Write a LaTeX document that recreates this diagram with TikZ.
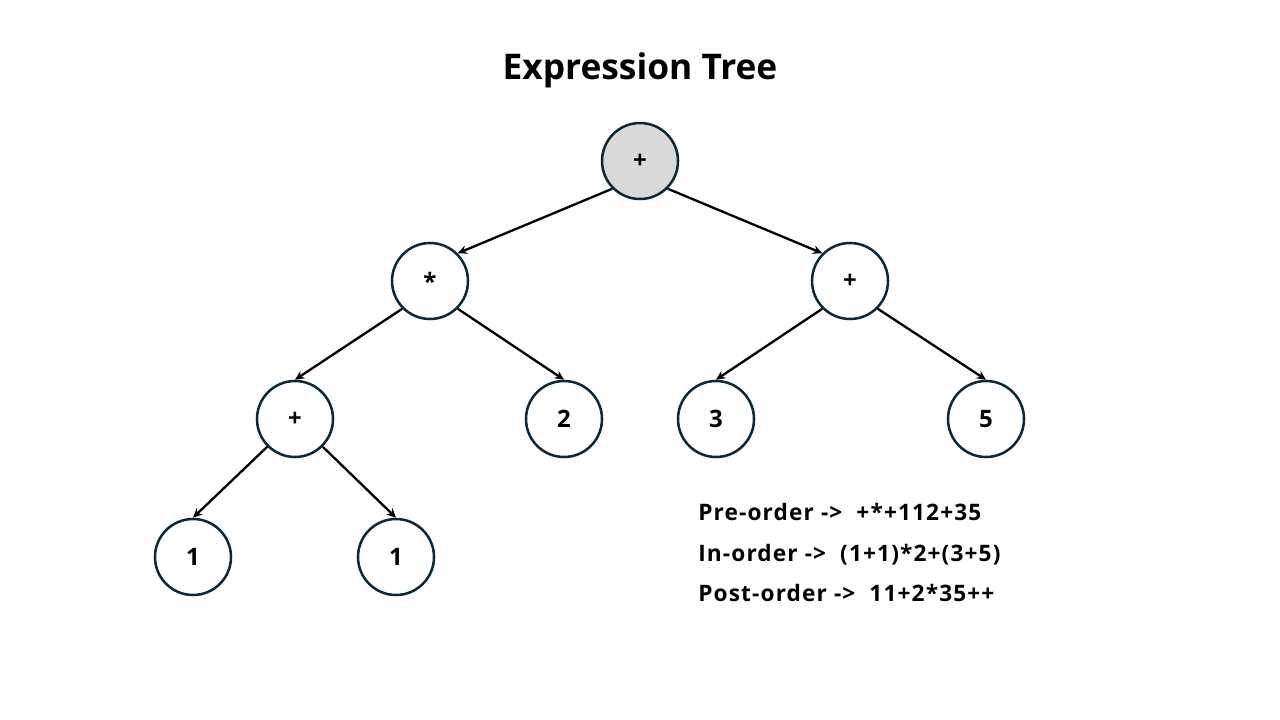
\documentclass[tikz,border=0pt]{standalone}
\usepackage{fontspec}
\setmainfont{Open Sans}
\usetikzlibrary{arrows.meta}
\definecolor{etNavy}{RGB}{13,40,56}
\definecolor{etGray}{RGB}{217,217,217}
\tikzset{
    base/.style={font=\bfseries\fontsize{18}{20}\selectfont, align=center},
    operand/.style={base, circle, draw=etNavy, line width=1.9pt, fill=white,
                    minimum size=57pt, inner sep=0pt},
    rootnode/.style={operand, fill=etGray},
    flow/.style={-{Stealth[length=7pt,width=6.5pt]}, line width=1.75pt, color=black},
    trav/.style={font=\bfseries\fontsize{17}{20}\selectfont\addfontfeature{LetterSpace=5},
                 anchor=base west, inner sep=0pt}
}
\begin{document}
\begin{tikzpicture}[x=0.75pt,y=-0.75pt]
  \useasboundingbox (0,0) rectangle (1280,720);

  % Title
  \node[font=\bfseries\fontsize{26.5}{30}\selectfont] (title) at (640,70) {Expression Tree};

  % Tree nodes
  \node[rootnode] (root) at (640,161) {+};
  \node[operand] (mul) at (430,281) {*};
  \node[operand] (addR) at (850,281) {+};
  \node[operand] (addL) at (295,419) {+};
  \node[operand] (two) at (564,419) {2};
  \node[operand] (three) at (716,419) {3};
  \node[operand] (five) at (986,419) {5};
  \node[operand] (oneL) at (193,557) {1};
  \node[operand] (oneR) at (396,557) {1};

  % Edges
  \draw[flow] (root.south west) -- (mul.north east);
  \draw[flow] (root.south east) -- (addR.north west);
  \draw[flow] (mul.south west) -- (addL.north);
  \draw[flow] (mul.south east) -- (two.north);
  \draw[flow] (addR.south west) -- (three.north);
  \draw[flow] (addR.south east) -- (five.north);
  \draw[flow] (addL.south west) -- (oneL.north);
  \draw[flow] (addL.south east) -- (oneR.north);

  % Traversals
  \node[trav] (pre) at (698,520) {Pre-order -> \ +*+112+35};
  \node[trav] (in) at (698,561) {In-order -> \ (1+1)*2+(3+5)};
  \node[trav] (post) at (698,601) {Post-order -> \ 11+2*35++};
\end{tikzpicture}
\end{document}
